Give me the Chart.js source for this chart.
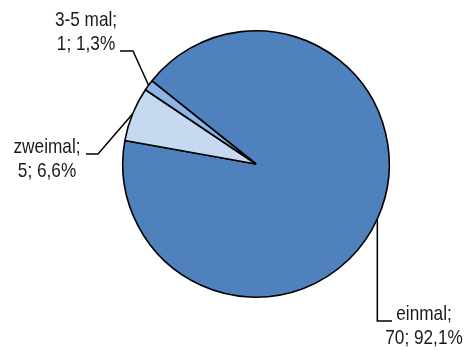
<!DOCTYPE html>
<html>
<head>
<meta charset="utf-8">
<script src="https://cdn.jsdelivr.net/npm/chart.js@4"></script>
<style>
  html, body { margin: 0; padding: 0; background: #fff; }
  canvas { display: block; }
</style>
</head>
<body>
<canvas id="chart" width="471" height="351"></canvas>
<script>
const categories = ["einmal", "zweimal", "3-5 mal"];
const counts = [70, 5, 1];
const sliceColors = ["#4f81bd", "#c6d9f1", "#8eb4e3"];

// no narrow font installed, so squeeze Liberation Sans horizontally
const FONT = '21px "Liberation Sans", Arial, sans-serif';
const SQUEEZE = 0.82;

// leader line elbow / end point and text anchor per slice (layout only)
const labelLayout = [
  { elbow: [null, 321], end: [392, 321], text: [424, 320] },
  { elbow: [98, 154], end: [86, 154], text: [47, 153] },
  { elbow: [133, 51], end: [120, 51], text: [86, 26] },
];

const total = counts.reduce((a, b) => a + b, 0);
const pctText = v => (v / total * 100).toFixed(1).replace(".", ",") + "%";

function narrowText(ctx, str, x, y) {
  ctx.save();
  ctx.translate(x, y);
  ctx.scale(SQUEEZE, 1);
  ctx.fillText(str, 0, 0);
  ctx.restore();
}

const leaderLabels = {
  id: "leaderLabels",
  afterDraw(chart) {
    const ctx = chart.ctx;
    const arcs = chart.getDatasetMeta(0).data;
    ctx.save();
    ctx.strokeStyle = "#000";
    ctx.lineWidth = 1.5;
    ctx.fillStyle = "#1a1a1a";
    ctx.font = FONT;
    ctx.textAlign = "center";
    ctx.textBaseline = "alphabetic";
    arcs.forEach((arc, i) => {
      const p = arc.getProps(["x", "y", "startAngle", "endAngle", "outerRadius"], true);
      const mid = (p.startAngle + p.endAngle) / 2;
      const ex = p.x + Math.cos(mid) * p.outerRadius;
      const ey = p.y + Math.sin(mid) * p.outerRadius;
      const lay = labelLayout[i];
      const bx = lay.elbow[0] === null ? ex : lay.elbow[0];
      ctx.beginPath();
      ctx.moveTo(ex, ey);
      ctx.lineTo(bx, lay.elbow[1]);
      ctx.lineTo(lay.end[0], lay.end[1]);
      ctx.stroke();
      narrowText(ctx, categories[i] + ";", lay.text[0], lay.text[1]);
      narrowText(ctx, counts[i] + "; " + pctText(counts[i]), lay.text[0], lay.text[1] + 23.5);
    });
    ctx.restore();
  }
};

new Chart(document.getElementById("chart"), {
  type: "pie",
  data: {
    labels: categories,
    datasets: [{
      data: counts,
      backgroundColor: sliceColors,
      borderColor: "#000",
      borderWidth: 1.6,
    }],
  },
  options: {
    responsive: false,
    animation: false,
    rotation: 308.6,
    layout: {
      padding: { left: 122, right: 81, top: 30, bottom: 53 },
    },
    plugins: {
      legend: { display: false },
      tooltip: { enabled: false },
    },
  },
  plugins: [leaderLabels],
});
</script>
</body>
</html>
